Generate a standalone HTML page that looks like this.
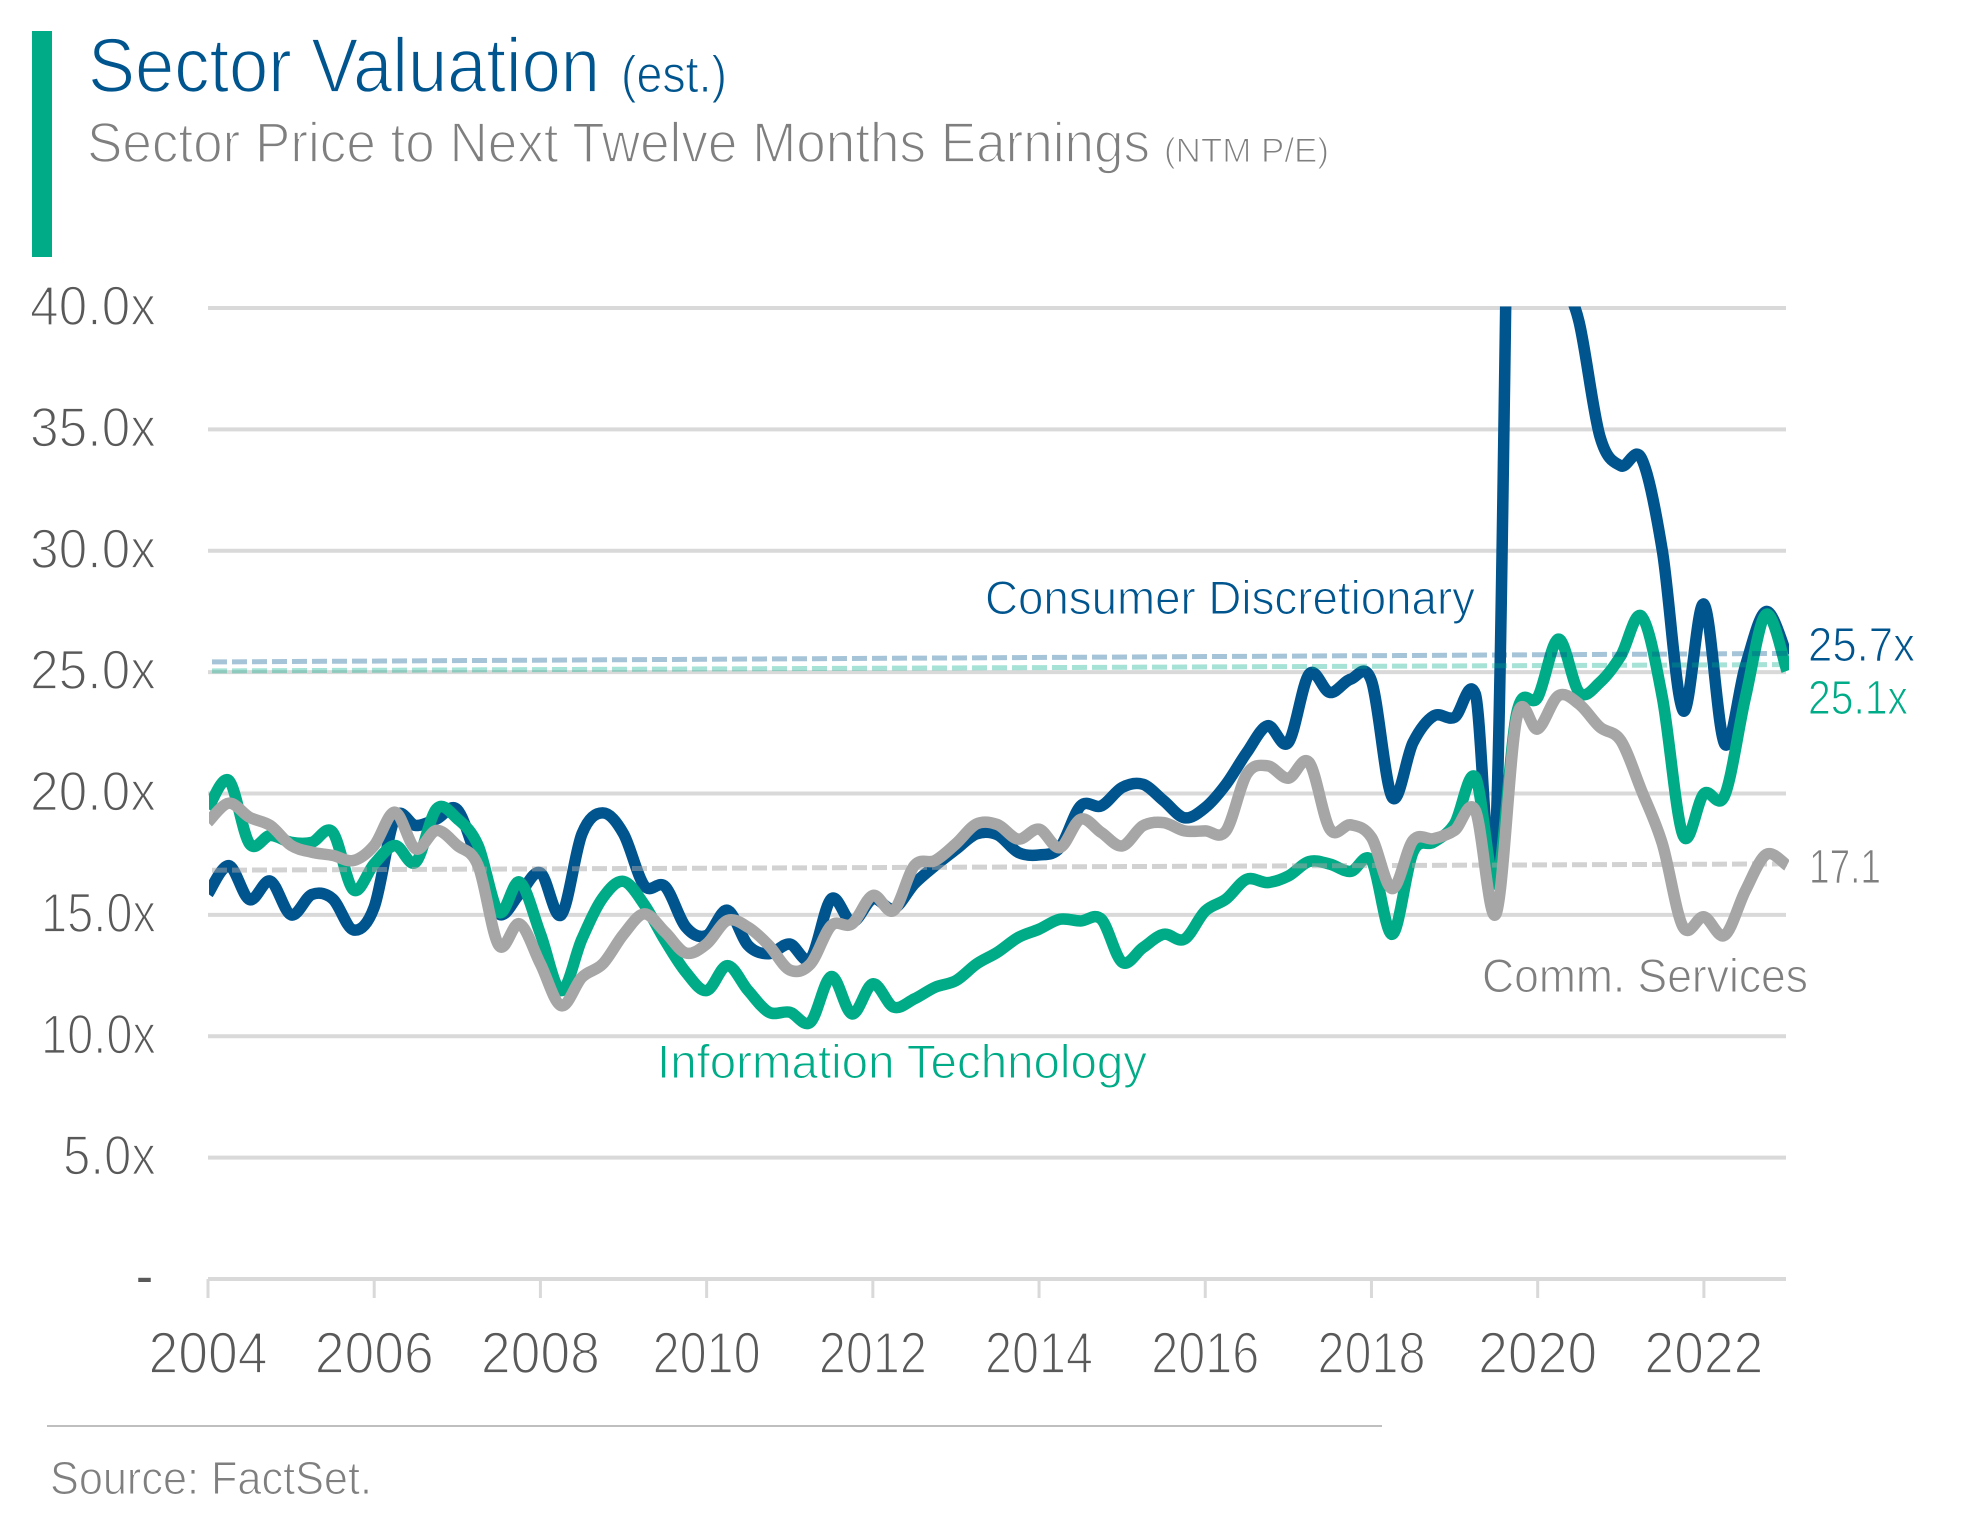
<!DOCTYPE html>
<html lang="en">
<head>
<meta charset="utf-8">
<title>Sector Valuation</title>
<style>
  html, body { margin: 0; padding: 0; background: #fff; }
  body { width: 1978px; height: 1535px; overflow: hidden; }
  svg { display: block; }
  text { font-family: "Liberation Sans", sans-serif; }
  .thin-l { stroke: #fff; stroke-width: 1.7px; }
  .thin-m { stroke: #fff; stroke-width: 1.1px; }
</style>
</head>
<body>
<svg id="chart" width="1978" height="1535" viewBox="0 0 1978 1535" xmlns="http://www.w3.org/2000/svg">
  <defs>
    <clipPath id="plot-clip"><rect x="209" y="306.5" width="1580" height="1000"></rect></clipPath>
  </defs>
  <rect x="32" y="31" width="20" height="226" fill="#00AB87"></rect>
  <text class="thin-l" x="88" y="92" font-size="77" fill="#00558F" textLength="512" lengthAdjust="spacingAndGlyphs">Sector Valuation</text>
  <text class="thin-m" x="621" y="92" font-size="52" fill="#00558F" textLength="106" lengthAdjust="spacingAndGlyphs">(est.)</text>
  <text class="thin-l" x="87" y="162" font-size="57" fill="#7F7F7F" textLength="1063" lengthAdjust="spacingAndGlyphs">Sector Price to Next Twelve Months Earnings</text>
  <text class="thin-m" x="1164" y="162" font-size="34" fill="#7F7F7F" textLength="165" lengthAdjust="spacingAndGlyphs">(NTM P/E)</text>

  <g id="grid"></g>
  <g id="ylabels"></g>
  <g id="xaxis"></g>
  <g id="lines" clip-path="url(#plot-clip)"></g>
  <g id="averages"></g>

  <text class="thin-m" x="985" y="614" font-size="47" fill="#00558F" textLength="490" lengthAdjust="spacingAndGlyphs">Consumer Discretionary</text>
  <text class="thin-m" x="657" y="1078" font-size="47" fill="#00AB87" textLength="490" lengthAdjust="spacingAndGlyphs">Information Technology</text>
  <text class="thin-m" x="1482" y="992" font-size="47" fill="#7F7F7F" textLength="326" lengthAdjust="spacingAndGlyphs">Comm. Services</text>
  <text class="thin-m" x="1808" y="661" font-size="48" fill="#00558F" textLength="107" lengthAdjust="spacingAndGlyphs">25.7x</text>
  <text class="thin-m" x="1808" y="714" font-size="48" fill="#00AB87" textLength="100" lengthAdjust="spacingAndGlyphs">25.1x</text>
  <text class="thin-m" x="1809" y="883" font-size="48" fill="#7F7F7F" textLength="72" lengthAdjust="spacingAndGlyphs">17.1</text>

  <rect x="47" y="1425" width="1335" height="2" fill="#BFBFBF"></rect>
  <text class="thin-m" x="50" y="1494" font-size="46" fill="#7F7F7F" textLength="322" lengthAdjust="spacingAndGlyphs">Source: FactSet.</text>
</svg>
<script>
var startYear = 2004;
var endYear = 2023;
var yTickValues = [0, 5, 10, 15, 20, 25, 30, 35, 40];
var yTickLabels = ['-', '5.0x', '10.0x', '15.0x', '20.0x', '25.0x', '30.0x', '35.0x', '40.0x'];
var xTickYears = [2004, 2006, 2008, 2010, 2012, 2014, 2016, 2018, 2020, 2022];

// Quarterly NTM P/E, 2004 Q1 through 2023 Q1
var consumerDiscretionary = [
  15.87, 17.03, 15.63, 16.39, 15.0, 15.84, 15.66, 14.38, 15.32, 19.0,
  18.68, 18.95, 19.33, 17.17, 15.04, 15.87, 16.73, 15.0, 18.34, 19.2,
  18.34, 16.2, 16.17, 14.5, 14.15, 15.19, 13.74, 13.4, 13.8, 13.2,
  15.66, 14.7, 15.66, 15.25, 16.28, 17.03, 17.7, 18.34, 18.3, 17.57,
  17.47, 17.77, 19.49, 19.49, 20.25, 20.38, 19.7, 19.0, 19.42, 20.38,
  21.69, 22.79, 22.1, 24.92, 24.16, 24.71, 24.64, 19.84, 22.1, 23.2,
  23.14, 24.1, 18.6, 65, 48, 42, 39.4, 34.7, 33.5, 33.8,
  30.0, 23.41, 27.8, 22.04, 25.26, 27.5, 25.7
];
var informationTechnology = [
  19.37, 20.54, 17.93, 18.27, 17.99, 17.99, 18.41, 16.03, 17.1, 17.86,
  17.17, 19.37, 18.96, 17.86, 15.11, 16.35, 14.22, 11.88, 14.01, 15.7,
  16.38, 15.42, 13.94, 12.64, 11.88, 12.91, 11.88, 10.99, 10.99, 10.58,
  12.46, 10.92, 12.16, 11.2, 11.54, 12.02, 12.29, 12.98, 13.46, 14.07,
  14.41, 14.82, 14.75, 14.82, 13.05, 13.65, 14.2, 14.0, 15.16, 15.65,
  16.47, 16.33, 16.6, 17.2, 17.09, 16.79, 17.23, 14.2, 17.59, 18.0,
  18.75, 20.67, 16.3, 23.34, 23.96, 26.36, 24.16, 24.58, 25.67, 27.3,
  23.96, 18.27, 19.99, 19.92, 23.96, 27.38, 25.05
];
var commServices = [
  18.82, 19.6, 19.02, 18.68, 17.86, 17.58, 17.45, 17.24, 17.86, 19.23,
  17.72, 18.48, 17.86, 17.03, 13.74, 14.63, 12.98, 11.26, 12.43, 12.98,
  14.2, 15.04, 14.29, 13.43, 13.8, 14.77, 14.49, 13.74, 12.73, 12.98,
  14.56, 14.63, 15.8, 15.18, 17.03, 17.24, 17.93, 18.75, 18.72, 18.12,
  18.53, 17.77, 18.94, 18.39, 17.84, 18.67, 18.8, 18.46, 18.46, 18.46,
  20.8, 21.14, 20.63, 21.28, 18.53, 18.71, 18.19, 16.08, 18.07, 18.14,
  18.48, 19.3, 15.05, 23.14, 22.66, 24.03, 23.68, 22.73, 22.18, 20.12,
  17.93, 14.5, 14.92, 14.16, 16.0, 17.49, 17.04
];
// Average levels at the start and end of the period
var averageConsumerDiscretionary = [25.42, 25.77];
var averageInformationTechnology = [25.05, 25.31];
var averageCommServices = [16.84, 17.1];

var NS = 'http://www.w3.org/2000/svg';
function xScale(year) { return 208 + (year - startYear) * (1787 - 208) / (endYear - startYear); }
function yScale(value) { return 1279 - value * (1279 - 308) / 40; }
function make(tag, parent, attrs) {
  var el = document.createElementNS(NS, tag);
  for (var k in attrs) el.setAttribute(k, attrs[k]);
  parent.appendChild(el);
  return el;
}
function smoothPath(values) {
  var pts = values.map(function (v, i) { return [xScale(startYear + i / 4), yScale(v)]; });
  var d = 'M' + pts[0][0].toFixed(2) + ' ' + pts[0][1].toFixed(2);
  for (var i = 0; i < pts.length - 1; i++) {
    var p0 = pts[Math.max(i - 1, 0)], p1 = pts[i], p2 = pts[i + 1], p3 = pts[Math.min(i + 2, pts.length - 1)];
    var c1x = p1[0] + (p2[0] - p0[0]) / 6, c1y = p1[1] + (p2[1] - p0[1]) / 6;
    var c2x = p2[0] - (p3[0] - p1[0]) / 6, c2y = p2[1] - (p3[1] - p1[1]) / 6;
    d += 'C' + c1x.toFixed(2) + ' ' + c1y.toFixed(2) + ' ' + c2x.toFixed(2) + ' ' + c2y.toFixed(2) + ' ' + p2[0].toFixed(2) + ' ' + p2[1].toFixed(2);
  }
  return d;
}

var grid = document.getElementById('grid');
var ylabels = document.getElementById('ylabels');
yTickValues.forEach(function (v, i) {
  var line = make('line', grid, { x1: 208, x2: 1786, y1: yScale(v), y2: yScale(v), stroke: '#D9D9D9', 'stroke-width': 4 });
  
  
  var label = yTickLabels[i];
  var t;
  if (label === '-') {
    t = make('text', ylabels, { x: 136, y: yScale(v) + 15, 'font-size': 54, fill: '#595959', textLength: 17, lengthAdjust: 'spacingAndGlyphs' });
  } else {
    var w = label.length === 4 ? 93 : (label.charAt(0) === '1' ? 115 : 126);
    t = make('text', ylabels, { x: 156 - w, y: yScale(v) + 17, 'font-size': 56, fill: '#595959', textLength: w, lengthAdjust: 'spacingAndGlyphs', 'class': 'thin-l' });
  }
  
  
  t.textContent = label;
});

var xaxis = document.getElementById('xaxis');
xTickYears.forEach(function (yr) {
  var x = xScale(yr);
  var tick = make('line', xaxis, { x1: x, x2: x, y1: 1279, y2: 1298, stroke: '#D9D9D9', 'stroke-width': 3 });
  
  
  var s = String(yr);
  var w = s.indexOf('1') >= 0 ? 108 : 119;
  var t = make('text', xaxis, { x: x - w / 2, y: 1373, 'font-size': 58, fill: '#595959', textLength: w, lengthAdjust: 'spacingAndGlyphs', 'class': 'thin-l' });
  
  
  t.textContent = s;
});

var lines = document.getElementById('lines');
var cdLine = make('path', lines, { d: smoothPath(consumerDiscretionary), fill: 'none', stroke: '#00558F', 'stroke-width': 11.5, 'stroke-linejoin': 'round' });


var itLine = make('path', lines, { d: smoothPath(informationTechnology), fill: 'none', stroke: '#00AB87', 'stroke-width': 11.5, 'stroke-linejoin': 'round' });


var csLine = make('path', lines, { d: smoothPath(commServices), fill: 'none', stroke: '#A6A6A6', 'stroke-width': 11.5, 'stroke-linejoin': 'round' });



var averages = document.getElementById('averages');
function averageLine(vals, color, opacity) {
  return make('line', averages, {
    x1: xScale(startYear) + 4, x2: xScale(endYear), y1: yScale(vals[0]), y2: yScale(vals[1]),
    stroke: color, 'stroke-opacity': opacity, 'stroke-width': 5, 'stroke-dasharray': '15 5'
  });
}
var cdAvg = averageLine(averageConsumerDiscretionary, '#00558F', 0.35);


var itAvg = averageLine(averageInformationTechnology, '#00AB87', 0.35);


var csAvg = averageLine(averageCommServices, '#A6A6A6', 0.5);


</script>
</body>
</html>
